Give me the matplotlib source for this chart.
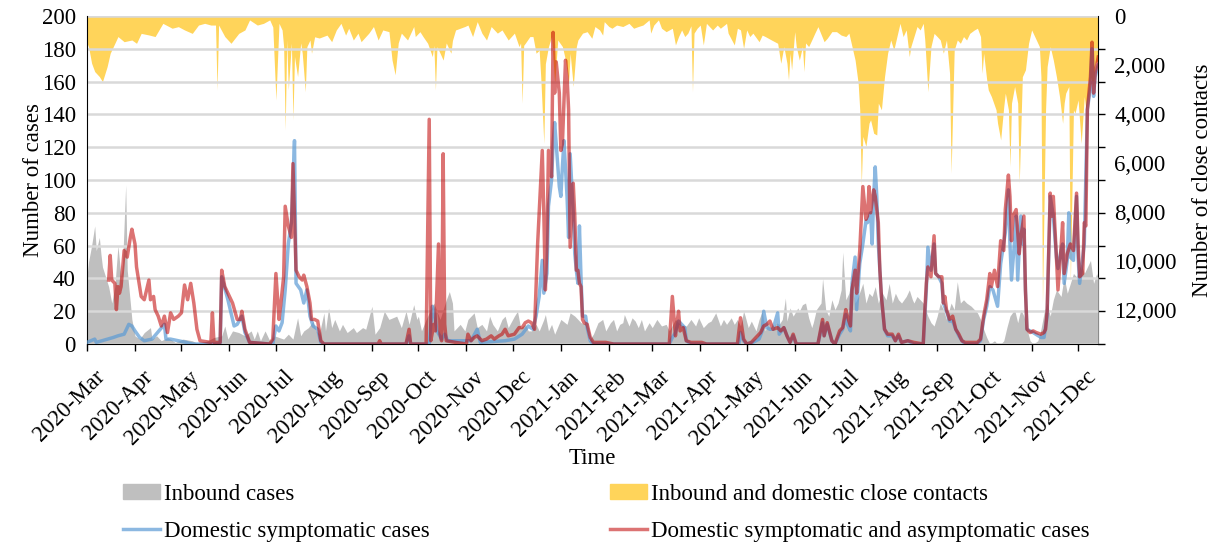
import numpy as np
import pandas as pd
import matplotlib
matplotlib.use('Agg')
import matplotlib.pyplot as plt
import matplotlib.dates as mdates
import matplotlib.transforms as mtransforms
from matplotlib.patches import Patch
from matplotlib.lines import Line2D
from matplotlib.ticker import FuncFormatter

plt.rcParams['font.family'] = 'Liberation Serif'

# (day since 2020-03-01, value)
start = pd.Timestamp('2020-03-01')
end_day = 652.7

inbound = [(0, 41), (1, 50), (3, 60), (5, 72), (6, 57), (8, 65), (9, 55), (10, 47), (12, 41), (14, 35),
           (16, 25), (18, 35), (20, 60), (22, 41), (23, 49), (25, 97), (26, 45), (28, 25), (29, 15), (31, 5),
           (34, 3), (37, 7), (41, 10), (42, 3), (45, 5), (48, 2), (52, 4), (57, 1), (62, 3), (68, 2),
           (72, 0), (78, 2), (82, 4), (87, 5), (89, 11), (91, 3), (94, 8), (98, 7), (102, 5), (106, 8),
           (108, 3), (110, 8), (112, 2), (115, 8), (118, 2), (121, 5), (124, 4), (127, 3), (130, 6), (133, 3),
           (136, 16), (138, 5), (140, 8), (143, 10), (146, 14), (148, 8), (150, 6), (153, 19), (154, 8), (156, 22),
           (158, 10), (160, 15), (163, 8), (165, 12), (168, 7), (172, 10), (174, 7), (178, 10), (180, 9), (184, 23),
           (186, 6), (189, 10), (192, 20), (195, 15), (200, 17), (203, 10), (206, 20), (208, 12), (211, 24), (213, 15),
           (214, 17), (216, 8), (219, 15), (221, 19), (224, 25), (228, 15), (232, 27), (234, 32), (236, 25), (237, 8),
           (241, 12), (244, 8), (246, 15), (250, 19), (252, 10), (255, 12), (258, 8), (260, 17), (262, 12), (265, 8),
           (268, 15), (270, 17), (272, 10), (276, 17), (278, 20), (280, 10), (283, 12), (285, 8), (287, 8), (290, 12),
           (292, 8), (295, 15), (296, 18), (298, 8), (300, 12), (302, 6), (306, 15), (310, 12), (312, 19), (315, 17),
           (319, 13), (322, 12), (324, 2), (327, 6), (330, 13), (333, 15), (335, 8), (338, 13), (340, 15), (342, 8),
           (344, 12), (346, 13), (347, 18), (350, 11), (352, 16), (354, 14), (356, 10), (358, 15), (360, 8), (363, 13),
           (365, 10), (368, 15), (371, 11), (374, 12), (376, 8), (380, 15), (383, 12), (387, 11), (390, 15), (393, 11),
           (395, 16), (398, 10), (401, 13), (403, 14), (406, 19), (409, 11), (411, 15), (413, 12), (416, 16), (418, 12),
           (420, 15), (422, 11), (424, 20), (425, 17), (427, 10), (429, 14), (432, 8), (434, 15), (436, 20), (438, 8),
           (440, 13), (442, 8), (445, 13), (447, 12), (449, 15), (451, 28), (452, 14), (454, 22), (456, 17), (459, 22),
           (460, 20), (462, 24), (464, 25), (466, 16), (468, 10), (469, 13), (471, 21), (474, 25), (475, 40), (477, 21),
           (479, 17), (481, 27), (483, 21), (485, 25), (487, 33), (488, 56), (490, 27), (492, 31), (494, 41), (496, 25),
           (498, 29), (501, 37), (503, 25), (505, 31), (507, 29), (509, 35), (511, 25), (513, 32), (516, 27), (518, 37),
           (520, 25), (522, 31), (524, 27), (526, 25), (529, 29), (531, 33), (533, 27), (534, 25), (536, 29), (538, 27),
           (540, 25), (543, 17), (545, 13), (547, 11), (549, 17), (551, 25), (553, 21), (555, 15), (558, 25), (560, 21),
           (562, 38), (564, 25), (566, 27), (568, 25), (571, 23), (573, 21), (575, 19), (577, 15), (579, 9), (581, 4),
           (583, 0), (586, 2), (588, 0), (590, 0), (592, 2), (594, 10), (596, 17), (599, 21), (601, 13), (603, 21),
           (605, 17), (607, 9), (609, 2), (611, 0), (614, 2), (616, 9), (618, 19), (620, 25), (622, 17), (624, 27),
           (626, 33), (629, 29), (631, 41), (633, 31), (635, 37), (637, 43), (639, 41), (642, 49), (644, 43), (646, 47),
           (648, 51), (650, 37), (652, 43), (653, 40)]

contacts = [(0, 1100), (1, 1250), (3, 1930), (5, 2270), (8, 2475), (10, 2680), (13, 2070), (15, 1520), (18, 1115),
            (20, 840), (24, 1050), (29, 980), (32, 1115), (35, 710), (40, 775), (44, 840), (49, 300), (55, 500),
            (59, 435), (63, 570), (68, 710), (72, 370), (76, 300), (80, 370), (83, 370), (84, 3020), (85, 370),
            (89, 840), (93, 1115), (98, 710), (102, 570), (105, 160), (110, 370), (114, 300), (118, 160), (120, 450),
            (122, 3430), (124, 300), (126, 570), (127, 1250), (128, 4650), (129, 980), (130, 3020), (132, 1100),
            (133, 4240), (134, 1650), (136, 2475), (138, 1100), (139, 1520), (141, 3090), (142, 1250), (144, 980),
            (145, 1520), (147, 850), (150, 900), (155, 780), (158, 1050), (161, 570), (164, 300), (167, 780),
            (169, 500), (172, 980), (175, 700), (177, 1050), (182, 700), (185, 430), (188, 980), (191, 570),
            (195, 640), (197, 1800), (199, 2400), (201, 1100), (203, 700), (207, 980), (211, 430), (212, 840),
            (215, 640), (217, 840), (220, 1115), (223, 1660), (224, 1200), (225, 3020), (226, 1250), (228, 1520),
            (230, 1800), (232, 1100), (235, 1520), (236, 1000), (238, 570), (241, 500), (244, 430), (246, 370),
            (249, 840), (252, 230), (255, 700), (258, 980), (261, 430), (265, 700), (268, 570), (272, 980),
            (276, 700), (279, 1250), (280, 1100), (281, 3560), (282, 1200), (283, 1115), (286, 840), (288, 840),
            (290, 1520), (292, 1400), (293, 2475), (295, 5200), (296, 1950), (298, 1250), (300, 840), (302, 2750),
            (304, 980), (307, 1250), (309, 1800), (311, 2750), (312, 1520), (314, 2880), (316, 1250), (317, 980),
            (320, 700), (323, 640), (326, 910), (328, 430), (331, 570), (333, 780), (334, 230), (337, 430),
            (339, 500), (342, 370), (346, 430), (350, 300), (353, 500), (356, 430), (359, 370), (363, 160),
            (364, 700), (366, 370), (369, 160), (371, 500), (374, 640), (378, 500), (380, 1180), (382, 840),
            (384, 570), (386, 840), (388, 700), (390, 400), (391, 3090), (392, 700), (394, 500), (396, 370),
            (398, 1180), (400, 300), (404, 570), (407, 370), (409, 500), (413, 300), (414, 700), (418, 1180),
            (420, 500), (422, 570), (424, 1320), (426, 570), (428, 840), (430, 700), (434, 1050), (436, 780),
            (438, 840), (442, 980), (446, 1115), (448, 1930), (450, 1250), (452, 1930), (453, 2610), (454, 1520),
            (455, 2200), (457, 640), (458, 1250), (460, 1800), (462, 1250), (463, 2270), (464, 1100), (466, 1250),
            (468, 980), (470, 700), (472, 435), (476, 1050), (478, 910), (481, 640), (484, 640), (487, 780),
            (490, 840), (492, 700), (494, 1250), (496, 1800), (498, 2750), (499, 3830), (500, 6900), (501, 4920),
            (503, 5330), (505, 4380), (506, 4240), (508, 4790), (510, 4860), (511, 3560), (513, 3830), (515, 2480),
            (517, 1520), (519, 980), (521, 1390), (523, 840), (525, 300), (527, 840), (529, 570), (531, 1660),
            (532, 1250), (534, 840), (536, 430), (538, 570), (540, 300), (541, 980), (543, 3090), (545, 1250),
            (547, 710), (549, 840), (551, 980), (553, 1520), (555, 980), (557, 2340), (558, 6420), (560, 1390),
            (562, 980), (564, 1115), (566, 840), (568, 980), (570, 710), (573, 570), (575, 500), (577, 840),
            (578, 2340), (579, 1520), (581, 2610), (582, 3020), (584, 3290), (587, 3830), (588, 4380), (590, 5060),
            (592, 3700), (593, 3150), (595, 3830), (596, 6150), (597, 3560), (599, 2880), (601, 3560), (602, 6830),
            (604, 2480), (606, 2200), (608, 1115), (610, 570), (612, 840), (615, 1250), (616, 2480), (617, 11720),
            (619, 3830), (620, 2070), (622, 1250), (624, 1800), (626, 2480), (628, 3290), (630, 4380), (631, 3560),
            (632, 3150), (634, 2880), (635, 10900), (637, 3830), (638, 3970), (640, 3430), (642, 5200), (644, 3290),
            (645, 3830), (647, 3150), (648, 2480), (650, 2880), (651, 1930), (653, 1800)]

symptomatic = [(0, 1), (5, 3), (6, 1), (17, 4), (20, 5), (24, 6), (27, 12), (29, 11), (31, 8), (34, 4), (37, 2),
               (42, 3), (50, 12), (51, 3), (54, 3), (59, 2), (64, 1), (68, 0), (86, 0), (87, 41), (91, 27), (95, 11),
               (97, 12), (100, 17), (102, 7), (105, 1), (118, 0), (120, 0), (122, 11), (124, 8), (126, 13), (128, 33),
               (130, 61), (132, 74), (133, 98), (134, 124), (135, 37), (138, 33), (140, 25), (142, 33), (144, 17),
               (146, 11), (149, 9), (151, 1), (153, 0), (206, 0), (208, 5), (209, 0), (221, 0), (223, 23), (224, 20),
               (226, 8), (229, 3), (231, 6), (233, 2), (248, 2), (252, 9), (254, 1), (270, 2), (276, 3), (281, 6),
               (285, 11), (288, 9), (290, 17), (292, 29), (294, 51), (295, 31), (297, 43), (298, 84), (300, 100),
               (301, 122), (302, 135), (303, 122), (305, 96), (306, 90), (307, 108), (308, 124), (310, 90), (311, 65),
               (312, 116), (314, 80), (315, 55), (316, 45), (317, 37), (318, 72), (319, 41), (320, 17), (322, 17),
               (323, 10), (325, 2), (327, 0), (376, 0), (378, 4), (380, 7), (382, 14), (384, 12), (386, 10), (387, 2),
               (390, 0), (421, 0), (422, 7), (424, 2), (426, 0), (430, 1), (434, 3), (436, 8), (437, 20), (439, 10),
               (441, 9), (443, 9), (446, 19), (447, 6), (450, 10), (452, 5), (454, 1), (456, 5), (458, 0), (472, 0),
               (475, 13), (476, 5), (478, 12), (481, 2), (483, 0), (486, 6), (488, 9), (490, 18), (491, 12), (493, 8),
               (494, 37), (496, 53), (497, 21), (499, 49), (501, 61), (503, 75), (504, 74), (506, 80), (507, 61),
               (508, 90), (509, 108), (510, 90), (511, 61), (512, 45), (513, 29), (515, 9), (517, 5), (520, 5),
               (522, 2), (524, 5), (526, 1), (530, 2), (534, 0), (540, 0), (541, 16), (542, 33), (543, 59), (545, 45),
               (547, 61), (548, 43), (550, 41), (552, 37), (553, 25), (555, 20), (557, 14), (559, 14), (561, 9),
               (563, 5), (565, 2), (567, 0), (575, 0), (577, 2), (579, 15), (581, 23), (583, 35), (585, 33), (588, 23),
               (590, 49), (593, 68), (595, 94), (596, 61), (597, 39), (599, 63), (600, 78), (601, 39), (603, 78),
               (604, 61), (605, 70), (606, 33), (607, 9), (611, 7), (616, 4), (618, 4), (620, 17), (622, 90), (624, 78),
               (626, 53), (627, 46), (629, 57), (630, 61), (631, 37), (633, 51), (634, 80), (635, 53), (637, 51),
               (639, 90), (640, 53), (641, 37), (644, 61), (646, 143), (648, 157), (649, 180), (650, 151), (651, 163),
               (653, 170)]

all_domestic = [(14, 39), (15, 54), (16, 39), (18, 37), (19, 21), (20, 35), (21, 31), (22, 35), (24, 57), (26, 53),
                (28, 65), (29, 70), (31, 61), (32, 47), (33, 41), (35, 29), (37, 27), (40, 39), (41, 27), (43, 29),
                (44, 21), (46, 17), (48, 11), (50, 17), (52, 7), (54, 19), (56, 15), (59, 17), (61, 19), (63, 36),
                (65, 27), (67, 37), (69, 25), (71, 9), (73, 2), (80, 1), (81, 19), (82, 1), (86, 1), (87, 45),
                (89, 35), (91, 31), (94, 25), (97, 15), (99, 15), (100, 20), (102, 9), (105, 1), (118, 0), (120, 3),
                (122, 43), (124, 15), (125, 23), (127, 41), (128, 84), (130, 72), (132, 65), (133, 110), (135, 45),
                (137, 41), (139, 39), (140, 42), (142, 35), (144, 25), (145, 15), (147, 15), (149, 14), (151, 2),
                (153, 0), (188, 0), (189, 2), (190, 0), (206, 0), (208, 9), (209, 0), (219, 0), (221, 137), (222, 2),
                (224, 12), (225, 8), (227, 61), (228, 6), (229, 2), (230, 116), (231, 12), (232, 2), (238, 1), (245, 0),
                (246, 6), (248, 2), (250, 4), (252, 5), (255, 2), (258, 3), (261, 5), (263, 3), (266, 5), (268, 6),
                (270, 9), (272, 5), (276, 6), (279, 10), (281, 10), (283, 13), (285, 14), (287, 13), (289, 9),
                (291, 61), (294, 118), (295, 80), (296, 33), (297, 61), (298, 118), (300, 102), (301, 190), (302, 153),
                (303, 172), (305, 153), (306, 118), (307, 122), (309, 173), (310, 163), (311, 143), (312, 59),
                (314, 98), (315, 78), (316, 45), (317, 45), (318, 37), (319, 35), (320, 15), (321, 13), (323, 12),
                (325, 4), (327, 1), (335, 1), (340, 0), (376, 0), (378, 29), (380, 5), (381, 13), (382, 20), (383, 8),
                (385, 10), (387, 2), (390, 1), (397, 1), (400, 0), (420, 0), (422, 16), (424, 3), (426, 0), (429, 1),
                (433, 5), (435, 7), (437, 11), (439, 12), (441, 14), (443, 9), (446, 10), (448, 8), (450, 10), (452, 5),
                (454, 1), (456, 6), (458, 0), (472, 0), (475, 15), (476, 5), (478, 13), (481, 2), (483, 0), (486, 8),
                (488, 10), (490, 21), (491, 17), (493, 11), (494, 33), (496, 45), (497, 31), (499, 57), (501, 96),
                (503, 76), (504, 78), (505, 96), (506, 80), (508, 94), (509, 90), (511, 74), (512, 45), (513, 29),
                (515, 9), (517, 6), (520, 6), (522, 2), (524, 6), (526, 1), (530, 2), (534, 1), (540, 0), (541, 20),
                (542, 37), (543, 47), (545, 41), (547, 66), (548, 43), (550, 41), (552, 41), (553, 25), (554, 29),
                (555, 21), (557, 15), (559, 17), (561, 9), (563, 6), (565, 2), (567, 1), (575, 1), (577, 3), (579, 17),
                (581, 27), (583, 43), (584, 35), (586, 45), (588, 35), (590, 63), (592, 57), (593, 82), (595, 103),
                (596, 90), (597, 63), (598, 78), (600, 82), (602, 55), (603, 65), (605, 78), (606, 33), (607, 9),
                (609, 7), (611, 8), (613, 7), (616, 6), (618, 7), (619, 9), (620, 20), (622, 92), (623, 78), (624, 90),
                (626, 53), (627, 33), (629, 59), (630, 74), (631, 43), (633, 55), (635, 61), (637, 57), (639, 92),
                (640, 61), (641, 41), (643, 43), (644, 74), (645, 72), (646, 143), (648, 163), (649, 184), (650, 153),
                (651, 165), (653, 175)]


def to_xy(pairs):
    d, v = zip(*pairs)
    return start + pd.to_timedelta(np.array(d, float), unit='D'), np.array(v, float)


FS = 16.5
grey = '#BFBFBF'
yellow = '#FFD45A'
blue = (0.357, 0.608, 0.835, 0.7)
red = (0.753, 0.0, 0.0, 0.55)

fig, ax = plt.subplots(figsize=(12.13, 5.44), dpi=100)
fig.subplots_adjust(left=0.0717, right=0.905, bottom=0.3676, top=0.9706)
ax2 = ax.twinx()
ax.set_zorder(ax2.get_zorder() + 1)
ax.patch.set_visible(False)

# close contacts hang from the top on the inverted right axis
x, y = to_xy(contacts)
ax2.fill_between(x, 0, y, color=yellow, lw=0)
ax2.set_ylim(13400, 0)

x, y = to_xy(inbound)
ax.fill_between(x, 0, y, color=grey, lw=0, zorder=1)
x, y = to_xy(symptomatic)
ax.plot(x, y, color=blue, lw=2.5, zorder=3)
x, y = to_xy(all_domestic)
ax.plot(x, y, color=red, lw=2.5, zorder=4)

ax.set_ylim(0, 200)
ax.set_yticks(range(0, 201, 20))
ax.grid(axis='y', color='#D9D9D9', lw=1.8)
ax.set_xlim(start, start + pd.Timedelta(days=end_day))
ax2.set_xlim(ax.get_xlim())

ax.xaxis.set_major_locator(mdates.MonthLocator())
ax.xaxis.set_major_formatter(mdates.DateFormatter('%Y-%b'))
ax.tick_params(axis='x', direction='out', length=5, width=1, labelsize=FS, pad=4)
ax.tick_params(axis='y', length=0, labelsize=FS, pad=8)
shift = mtransforms.ScaledTranslation(7 / 100, -10 / 100, fig.dpi_scale_trans)
for lab in ax.get_xticklabels():
    lab.set_rotation(45)
    lab.set_ha('right')
    lab.set_rotation_mode('anchor')
    lab.set_transform(lab.get_transform() + shift)

ax2.set_yticks(range(0, 12001, 2000))
ax2.yaxis.set_major_formatter(FuncFormatter(lambda v, p: f'{v:,.0f}'))
ax2.set_yticks([(200 - v) / 200 * 13400 for v in range(0, 201, 20)], minor=True)
ax2.tick_params(axis='y', which='major', length=0, labelsize=FS, pad=12)
ax2.tick_params(axis='y', which='minor', length=5, width=1, direction='out')

for s in ['top', 'right']:
    ax.spines[s].set_visible(False)
for s in ['top', 'left', 'bottom']:
    ax2.spines[s].set_visible(False)
ax.spines['left'].set_color('black')
ax.spines['bottom'].set_color('black')
ax2.spines['right'].set_color('black')

ax.set_xlabel('Time', fontsize=FS)
ax.xaxis.set_label_coords(0.5, -0.317)
ax.set_ylabel('Number of cases', fontsize=FS)
ax.yaxis.set_label_coords(-0.043, 0.5)
ax2.set_ylabel('Number of close contacts', fontsize=FS)
ax2.yaxis.set_label_coords(1.093, 0.5)

handles = [Patch(color=grey), Line2D([], [], color=blue, lw=2.5),
           Patch(color=yellow), Line2D([], [], color=red, lw=2.5)]
labels = ['Inbound cases', 'Domestic symptomatic cases',
          'Inbound and domestic close contacts', 'Domestic symptomatic and asymptomatic cases']
fig.legend(handles, labels, ncol=2, loc='upper left', bbox_to_anchor=(0.1014, 0.111),
           frameon=False, fontsize=FS, borderpad=0, borderaxespad=0, handlelength=1.6,
           handleheight=0.6, handletextpad=0.2, columnspacing=7.85, labelspacing=0.7)

fig.savefig('out.png', dpi=100)
